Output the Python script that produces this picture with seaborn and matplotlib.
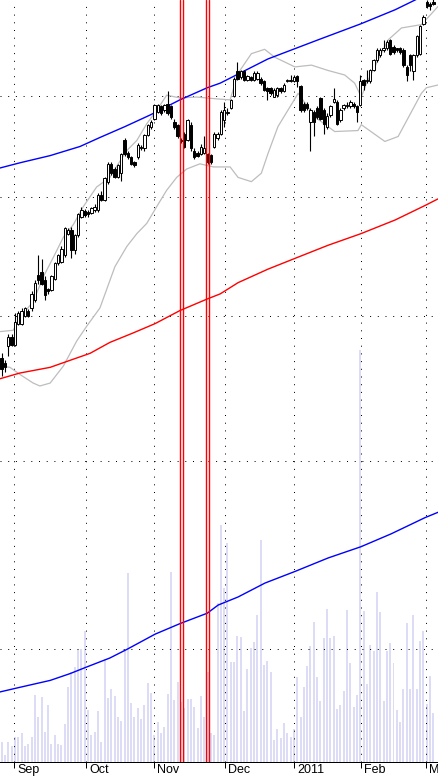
import numpy as np
import seaborn as sns
import matplotlib
matplotlib.use("Agg")
import matplotlib.pyplot as plt
from matplotlib.ticker import FixedLocator, NullLocator
from matplotlib.transforms import ScaledTranslation

# daily bars, late Aug 2010 -> early Mar 2011 (one entry per trading day)
opens = [46.9, 46.5, 47.7, 48.4, 47.8, 49.4, 49.4, 50.0, 50.4, 50.6,
         51.2, 53.2, 53.5, 52.8, 52.1, 52.0, 52.9, 54.2, 54.3, 54.9,
         56.7, 57.0, 55.3, 56.6, 58.2, 58.7, 58.6, 58.5, 58.8, 58.8,
         60.2, 59.7, 61.4, 63.1, 62.6, 61.8, 62.2, 65.4, 64.2, 63.8,
         63.3, 63.8, 64.6, 64.6, 65.9, 66.8, 67.6, 68.3, 68.9, 68.5,
         69.2, 68.9, 67.3, 67.0, 65.4, 66.1, 65.4, 67.0, 64.4, 64.2,
         64.1, 64.2, 64.1, 64.0, 64.7, 65.6, 66.1, 67.5, 68.2, 68.7,
         70.0, 72.7, 72.1, 72.7, 71.8, 72.1, 71.8, 71.9, 71.9, 71.6,
         70.9, 70.9, 69.9, 70.1, 70.9, 70.5, 71.6, 71.6, 71.6, 72.2,
         71.1, 69.2, 69.2, 67.3, 68.3, 68.7, 69.8, 68.5, 66.8, 68.0,
         69.4, 69.4, 67.5, 68.7, 68.9, 68.9, 69.2, 68.9, 69.1, 71.8,
         71.6, 71.6, 72.8, 74.0, 74.5, 75.1, 75.3, 76.3, 75.5, 75.3,
         75.3, 75.1, 73.2, 74.5, 72.7, 74.5, 74.7, 78.2, 80.9, 80.6,
         80.9]
highs = [47.2, 46.7, 48.6, 48.6, 50.2, 50.4, 50.6, 50.7, 50.5, 51.9,
         52.8, 54.9, 54.5, 53.1, 52.2, 53.2, 54.3, 55.0, 55.6, 57.3,
         57.2, 57.3, 56.7, 58.5, 59.1, 58.9, 58.8, 59.1, 59.3, 60.3,
         60.5, 61.8, 63.3, 63.3, 62.8, 63.1, 64.2, 65.6, 64.4, 63.9,
         63.4, 65.1, 64.9, 66.1, 67.1, 67.5, 69.2, 69.2, 69.1, 69.2,
         70.5, 69.1, 67.6, 67.1, 65.6, 66.3, 67.6, 67.3, 64.6, 64.4,
         65.0, 65.8, 64.2, 64.1, 66.3, 66.3, 68.5, 69.4, 68.7, 69.7,
         72.1, 73.7, 72.8, 72.8, 72.3, 72.2, 72.7, 72.7, 72.1, 71.8,
         71.0, 71.0, 70.9, 71.0, 71.0, 71.4, 71.9, 72.3, 72.3, 72.3,
         71.2, 69.4, 69.4, 68.7, 68.5, 68.9, 69.9, 68.7, 68.2, 69.1,
         70.9, 69.6, 68.7, 69.2, 69.4, 69.6, 69.4, 69.1, 72.3, 71.9,
         72.8, 73.0, 74.1, 75.3, 75.3, 76.3, 76.3, 76.4, 75.7, 75.4,
         75.5, 75.3, 73.4, 74.7, 74.7, 76.9, 78.1, 79.2, 81.1, 80.8,
         81.3]
lows = [45.6, 45.9, 47.0, 47.7, 47.7, 49.3, 49.3, 49.9, 49.9, 50.4,
        51.1, 52.5, 52.4, 51.2, 51.7, 51.9, 52.8, 54.0, 54.2, 54.7,
        56.6, 54.6, 55.0, 56.4, 58.1, 58.2, 58.2, 58.4, 58.6, 58.6,
        59.6, 59.6, 61.2, 62.0, 61.7, 61.7, 61.5, 63.9, 63.6, 63.0,
        62.8, 63.6, 64.5, 64.4, 65.8, 66.6, 67.5, 68.2, 68.0, 68.3,
        68.0, 67.6, 66.6, 65.6, 65.1, 64.6, 65.3, 64.4, 63.6, 63.8,
        64.0, 64.1, 63.1, 63.1, 64.6, 65.4, 65.9, 66.8, 68.0, 68.6,
        69.9, 71.8, 71.9, 71.6, 71.6, 71.6, 71.6, 71.8, 71.2, 70.5,
        69.6, 70.1, 69.9, 69.9, 70.3, 70.4, 71.5, 71.5, 71.5, 71.0,
        68.3, 68.3, 68.5, 64.4, 65.8, 67.6, 67.5, 66.1, 66.6, 67.8,
        69.3, 67.0, 67.3, 68.5, 68.7, 68.7, 68.7, 67.3, 68.9, 70.7,
        71.4, 71.4, 72.7, 73.8, 74.3, 74.9, 75.1, 74.5, 74.7, 74.9,
        74.7, 73.2, 71.6, 72.7, 71.8, 74.3, 74.5, 78.1, 80.1, 79.9,
        80.5]
closes = [46.1, 46.2, 48.4, 47.8, 49.5, 50.2, 50.4, 50.6, 50.0, 51.7,
          52.6, 52.8, 52.5, 51.6, 51.9, 53.1, 54.2, 54.9, 55.4, 57.2,
          57.0, 55.3, 56.6, 58.4, 58.8, 58.3, 58.4, 59.0, 59.1, 60.2,
          59.7, 61.7, 63.1, 62.2, 61.8, 63.0, 64.1, 64.1, 63.8, 63.1,
          63.0, 64.9, 64.7, 65.9, 67.0, 67.3, 69.1, 69.0, 68.2, 69.1,
          68.2, 67.8, 66.8, 65.8, 65.3, 64.7, 67.5, 64.6, 63.8, 63.9,
          64.7, 64.6, 63.3, 63.3, 66.1, 66.1, 68.3, 68.5, 68.3, 69.6,
          71.9, 71.9, 72.7, 71.8, 72.2, 71.8, 72.5, 72.5, 71.4, 70.7,
          70.5, 70.3, 70.7, 70.9, 70.5, 71.2, 71.8, 71.8, 72.1, 71.6,
          68.5, 68.5, 68.7, 68.5, 67.3, 67.8, 67.6, 67.1, 67.9, 68.9,
          69.7, 67.1, 68.5, 69.1, 69.1, 69.4, 68.9, 68.3, 71.6, 71.2,
          71.8, 72.8, 74.0, 75.1, 75.1, 75.3, 76.1, 74.7, 74.9, 75.1,
          74.9, 73.4, 72.3, 73.4, 74.5, 76.7, 77.9, 79.0, 80.3, 80.3,
          80.6]
# volume, millions
volume = [2.0, 0.7, 2.0, 1.6, 2.5, 2.5, 2.9, 1.6, 1.8, 2.5,
          6.7, 4.5, 6.5, 3.0, 5.7, 1.8, 2.7, 1.8, 1.7, 3.8,
          7.5, 9.0, 9.5, 11.2, 11.3, 13.1, 5.2, 2.7, 3.0, 5.1,
          2.0, 10.3, 6.4, 7.3, 6.6, 4.5, 4.1, 11.2, 18.9, 5.9,
          4.5, 5.4, 4.3, 5.7, 7.9, 6.9, 2.7, 4.0, 2.9, 3.5,
          6.8, 19.0, 6.2, 8.0, 6.0, 5.4, 6.3, 6.3, 5.5, 3.4,
          6.6, 4.5, 9.0, 2.9, 2.7, 15.9, 23.7, 17.4, 21.9, 10.0,
          10.0, 12.6, 12.5, 5.1, 9.3, 11.4, 12.0, 14.7, 22.2, 9.7,
          10.1, 9.0, 2.2, 3.3, 2.4, 3.9, 2.9, 2.5, 3.3, 8.5,
          4.5, 7.5, 9.6, 11.6, 14.0, 8.5, 6.1, 12.4, 15.3, 12.4,
          12.6, 5.3, 5.7, 7.1, 15.2, 9.9, 5.5, 6.7, 41.2, 15.1,
          7.8, 11.7, 11.1, 17.0, 15.0, 6.1, 11.1, 11.9, 9.9, 5.2,
          4.0, 7.3, 13.9, 7.3, 14.7, 7.3, 12.1, 13.1, 5.8, 8.6,
          4.9]

# month starts (bar position) and labels
month_pos = [3.7, 25.4, 45.9, 67.3, 88.1, 108.2, 127.8]
month_labels = ["Sep", "Oct", "Nov", "Dec", "2011", "Feb", "Mar"]
price_grid = [30, 40, 50, 60, 70]
marked_days = [53.8, 54.7, 61.5, 62.5]

# trend channel lines, read as (bar, price) knots
top_x = [-0.5, 5.5, 14.6, 23.6, 29.6, 37.1, 44.7, 53.7, 61.9, 65.8, 80.2, 95.3, 108.2, 118.5, 124.5, 131.4]
top_y = [62.7, 63.2, 63.9, 64.8, 65.7, 66.8, 68.0, 69.6, 70.9, 71.4, 74.1, 76.3, 78.2, 79.9, 81.1, 82.6]
mid_x = [-0.5, 5.5, 14.6, 20.6, 26.6, 32.6, 39.6, 46.2, 53.7, 61.9, 65.8, 71.2, 80.2, 88.4, 98.3, 108.2, 118.5, 127.5, 131.4]
mid_y = [45.4, 45.8, 46.2, 46.7, 47.2, 48.0, 48.7, 49.4, 50.4, 51.3, 51.7, 52.6, 53.7, 54.6, 55.7, 56.7, 57.9, 59.2, 59.8]
low_x = [-0.5, 5.5, 14.6, 20.6, 25.7, 32.6, 37.8, 46.2, 53.7, 61.9, 65.2, 71.2, 79.3, 88.4, 98.3, 108.2, 117.3, 127.5, 131.4]
low_y = [28.1, 28.3, 28.6, 28.9, 29.2, 29.6, 30.0, 30.7, 31.2, 31.7, 32.1, 32.5, 33.2, 33.8, 34.5, 35.1, 35.8, 36.7, 37.0]

# bollinger bands
bb_up_x = [-0.5, 3.5, 5.0, 9.5, 12.6, 15.6, 18.6, 21.6, 24.6, 28.6, 32.6, 35.1, 37.7, 40.7, 43.7, 46.7, 49.7, 53.7, 58.7,
           64.8, 68.8, 71.2, 75.2, 79.2, 82.2, 88.3, 93.3, 98.3, 103.3, 106.3, 108.3, 109.9, 113.4, 116.4, 120.4, 126.4,
           129.4, 131.4]
bb_up_y = [48.8, 48.9, 49.7, 51.1, 53.1, 54.7, 56.4, 57.5, 59.1, 60.9, 61.8, 63.1, 64.4, 65.4, 67.1, 68.5, 70.1, 69.8, 69.9,
           69.7, 69.6, 72.5, 74.7, 75.2, 74.3, 73.2, 73.4, 72.8, 72.3, 71.4, 69.9, 71.4, 74.0, 76.3, 77.7, 78.1,
           79.4, 80.3]
bb_lo_x = [-0.5, 2.5, 5.5, 9.5, 11.5, 14.6, 18.6, 22.6, 25.6, 29.6, 34.1, 37.7, 40.7, 43.7, 46.7, 49.7, 52.7, 55.7, 59.7,
           63.8, 68.8, 71.2, 75.2, 78.2, 80.2, 83.2, 86.2, 89.3, 94.3, 100.3, 107.3, 108.3, 115.4, 119.4, 126.4, 127.9,
           131.4]
bb_lo_y = [46.3, 46.2, 45.7, 45.1, 44.9, 45.1, 46.3, 48.1, 49.2, 50.6, 53.9, 55.6, 56.7, 57.6, 59.1, 60.6, 61.8, 62.6, 63.1,
           62.8, 62.8, 61.8, 61.4, 62.2, 64.1, 66.8, 68.5, 70.3, 67.8, 66.3, 66.4, 67.0, 65.3, 65.8, 70.3, 70.9,
           71.2]

sns.set_theme(style="white")
plt.rcParams["font.family"] = ["Liberation Sans", "DejaVu Sans"]

W, H = 438, 776
fig = plt.figure(figsize=(W / 100, H / 100), dpi=100)
ax = fig.add_axes([0, 14 / H, 1, 762 / H])

days = np.arange(len(closes))

# volume bars in the back
sns.barplot(x=days, y=volume, ax=ax, color="#dcdcf6", saturation=1, width=0.6,
            native_scale=True, errorbar=None, linewidth=0)
ax.set_ylim(0, 76.2)
ax.set_xlim(-0.5, 131.4)
ax.set_yticks([])
ax.set_ylabel("")
ax.set_xlabel("")

# price panel on top, log scale
ax2 = ax.twinx()
ax2.set_yscale("log")
ax2.set_ylim(25.24, 81.1)

sns.lineplot(x=bb_up_x, y=bb_up_y, ax=ax2, color="#bdbdbd", linewidth=0.9)
sns.lineplot(x=bb_lo_x, y=bb_lo_y, ax=ax2, color="#bdbdbd", linewidth=0.9)
sns.lineplot(x=top_x, y=top_y, ax=ax2, color="#0000ff", linewidth=1.0)
sns.lineplot(x=mid_x, y=mid_y, ax=ax2, color="#ff0000", linewidth=1.0)
sns.lineplot(x=low_x, y=low_y, ax=ax2, color="#0000ff", linewidth=1.0)

o = np.array(opens)
c = np.array(closes)
ax2.vlines(days, lows, highs, color="black", linewidth=0.8, zorder=3)
body_bottom = np.minimum(o, c)
body_h = np.maximum(np.abs(c - o), 0.04)
body_col = ["white" if cc >= oo else "black" for oo, cc in zip(o, c)]
ax2.bar(days, body_h, bottom=body_bottom, width=0.72, color=body_col,
        edgecolor="black", linewidth=0.7, zorder=4)

for d in marked_days:
    ax2.axvline(d, color="#ff0000", linewidth=1.0, zorder=6)

# dotted grid
dots = (0, (1, 6.7))
ax2.yaxis.set_major_locator(FixedLocator(price_grid))
ax2.yaxis.set_minor_locator(NullLocator())
ax2.tick_params(axis="y", length=0, labelright=False, labelleft=False)
ax2.grid(axis="y", color="black", linestyle=dots, linewidth=0.72)
ax2.set_ylabel("")
ax2.set_xlim(-0.5, 131.4)

ax.set_xticks(month_pos, month_labels)
ax.set_axisbelow(False)
ax.grid(axis="x", color="black", linestyle=dots, linewidth=0.72)
ax.grid(axis="y", visible=False)
ax.tick_params(axis="x", bottom=True, direction="out", length=4.3, width=0.72,
               color="black", pad=-2.9, labelsize=9, labelcolor="black")
for lab in ax.get_xticklabels():
    lab.set_horizontalalignment("left")
    lab.set_transform(lab.get_transform() + ScaledTranslation(3 / 100, 0, fig.dpi_scale_trans))

for s in ["top", "left", "right"]:
    ax.spines[s].set_visible(False)
    ax2.spines[s].set_visible(False)
ax2.spines["bottom"].set_visible(False)
ax.spines["bottom"].set_color("black")
ax.spines["bottom"].set_linewidth(0.72)

fig.savefig("out.png", dpi=100)
